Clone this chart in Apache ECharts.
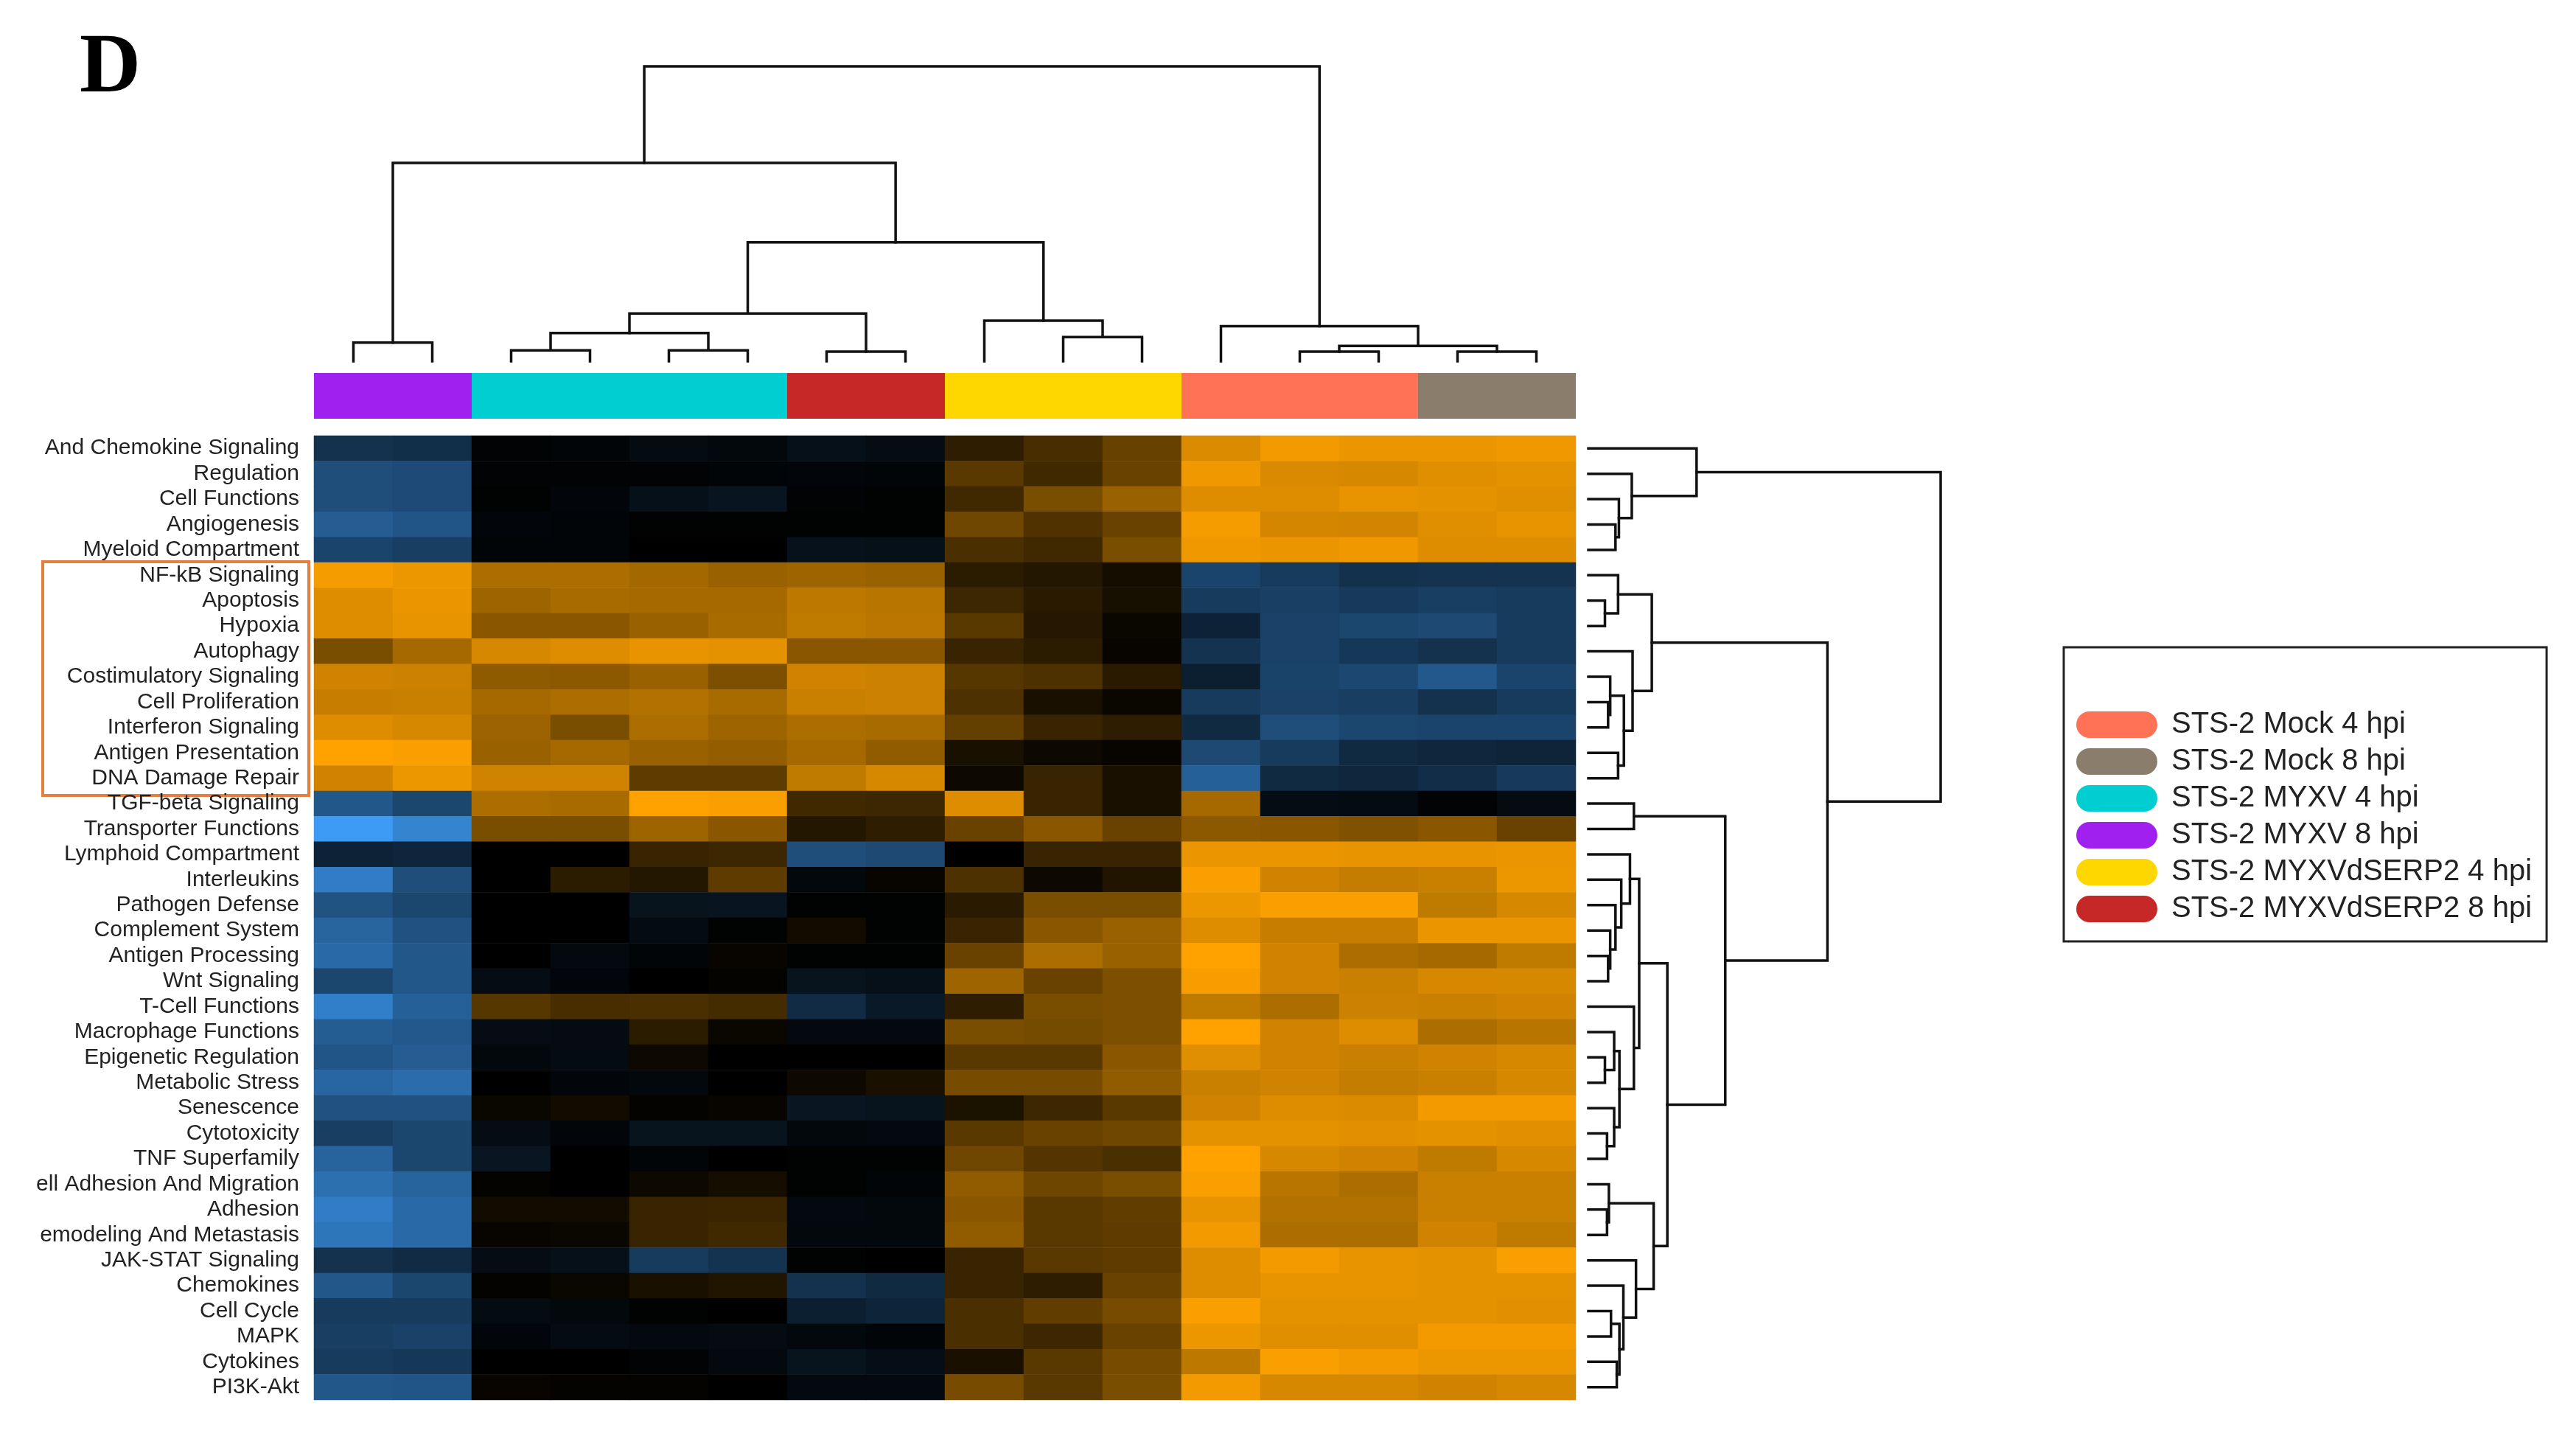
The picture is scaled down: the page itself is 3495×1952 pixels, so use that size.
<!DOCTYPE html>
<html>
<head>
<meta charset="utf-8">
<title>Pathway score heatmap</title>
<script src="https://cdn.jsdelivr.net/npm/echarts@6/dist/echarts.min.js"></script>
<style>
  html, body { margin: 0; padding: 0; background: #fff; }
  #chart { width: 3495px; height: 1952px; }
</style>
</head>
<body>
<div id="chart"></div>
<script>
// 行标签（自上而下，左侧被裁掉的部分按原图保留）
const rowNames = [
  'And Chemokine Signaling', 'Regulation', 'Cell Functions', 'Angiogenesis', 'Myeloid Compartment',
  'NF-kB Signaling', 'Apoptosis', 'Hypoxia', 'Autophagy', 'Costimulatory Signaling',
  'Cell Proliferation', 'Interferon Signaling', 'Antigen Presentation', 'DNA Damage Repair', 'TGF-beta Signaling',
  'Transporter Functions', 'Lymphoid Compartment', 'Interleukins', 'Pathogen Defense', 'Complement System',
  'Antigen Processing', 'Wnt Signaling', 'T-Cell Functions', 'Macrophage Functions', 'Epigenetic Regulation',
  'Metabolic Stress', 'Senescence', 'Cytotoxicity', 'TNF Superfamily', 'ell Adhesion And Migration',
  'Adhesion', 'emodeling And Metastasis', 'JAK-STAT Signaling', 'Chemokines', 'Cell Cycle',
  'MAPK', 'Cytokines', 'PI3K-Akt'
]

// 样本列
const colIds = ['S1', 'S2', 'S3', 'S4', 'S5', 'S6', 'S7', 'S8', 'S9', 'S10', 'S11', 'S12', 'S13', 'S14', 'S15', 'S16']
const colGroup = [3, 3, 2, 2, 2, 2, 5, 5, 4, 4, 4, 0, 0, 0, 1, 1]

// 分组
const groupNames = ['STS-2 Mock 4 hpi', 'STS-2 Mock 8 hpi', 'STS-2 MYXV 4 hpi', 'STS-2 MYXV 8 hpi', 'STS-2 MYXVdSERP2 4 hpi', 'STS-2 MYXVdSERP2 8 hpi']
const groupColors = ['#ff7256', '#8b7d6b', '#00ced1', '#a020f0', '#ffd700', '#c62828']

// 标准化得分（行 x 列）
const scores = [
  [-0.32, -0.30, -0.02, -0.03, -0.07, -0.05, -0.10, -0.08, 0.18, 0.28, 0.40, 0.86, 0.95, 0.92, 0.92, 0.94],
  [-0.50, -0.48, -0.02, -0.02, -0.02, -0.03, -0.04, -0.03, 0.35, 0.25, 0.41, 0.94, 0.85, 0.84, 0.88, 0.90],
  [-0.50, -0.48, -0.01, -0.04, -0.10, -0.13, -0.02, -0.01, 0.25, 0.48, 0.60, 0.87, 0.87, 0.91, 0.90, 0.88],
  [-0.60, -0.55, -0.04, -0.03, -0.01, -0.01, -0.01, -0.01, 0.44, 0.31, 0.41, 0.96, 0.83, 0.82, 0.88, 0.91],
  [-0.44, -0.40, -0.03, -0.03, 0.00, 0.00, -0.11, -0.10, 0.29, 0.25, 0.48, 0.94, 0.92, 0.94, 0.87, 0.87],
  [0.96, 0.93, 0.68, 0.68, 0.64, 0.60, 0.62, 0.60, 0.17, 0.14, 0.08, -0.44, -0.38, -0.31, -0.33, -0.33],
  [0.87, 0.92, 0.62, 0.66, 0.65, 0.65, 0.74, 0.72, 0.24, 0.16, 0.09, -0.38, -0.41, -0.37, -0.40, -0.38],
  [0.87, 0.91, 0.54, 0.54, 0.60, 0.66, 0.75, 0.73, 0.35, 0.15, 0.04, -0.22, -0.42, -0.45, -0.47, -0.38],
  [0.48, 0.65, 0.84, 0.87, 0.91, 0.90, 0.54, 0.54, 0.22, 0.17, 0.03, -0.33, -0.42, -0.36, -0.32, -0.38],
  [0.81, 0.80, 0.56, 0.55, 0.60, 0.49, 0.81, 0.80, 0.34, 0.30, 0.16, -0.20, -0.43, -0.46, -0.57, -0.44],
  [0.78, 0.79, 0.65, 0.68, 0.70, 0.66, 0.79, 0.80, 0.30, 0.10, 0.04, -0.38, -0.42, -0.40, -0.32, -0.38],
  [0.87, 0.84, 0.61, 0.48, 0.68, 0.62, 0.68, 0.66, 0.39, 0.22, 0.18, -0.27, -0.50, -0.45, -0.44, -0.44],
  [1.00, 0.98, 0.60, 0.65, 0.60, 0.58, 0.65, 0.57, 0.10, 0.05, 0.03, -0.47, -0.38, -0.27, -0.25, -0.23],
  [0.81, 0.93, 0.81, 0.81, 0.37, 0.37, 0.75, 0.84, 0.05, 0.22, 0.10, -0.62, -0.27, -0.25, -0.29, -0.37],
  [-0.56, -0.45, 0.68, 0.66, 1.00, 0.98, 0.25, 0.24, 0.87, 0.22, 0.10, 0.65, -0.08, -0.07, -0.02, -0.07],
  [-1.00, -0.85, 0.48, 0.48, 0.62, 0.54, 0.14, 0.18, 0.41, 0.54, 0.41, 0.55, 0.54, 0.50, 0.54, 0.41],
  [-0.22, -0.24, 0.00, 0.00, 0.22, 0.24, -0.50, -0.47, 0.00, 0.22, 0.22, 0.92, 0.92, 0.91, 0.91, 0.92],
  [-0.80, -0.50, 0.00, 0.17, 0.14, 0.37, -0.05, 0.03, 0.30, 0.05, 0.13, 0.98, 0.81, 0.77, 0.79, 0.93],
  [-0.53, -0.45, 0.00, 0.00, -0.12, -0.13, -0.01, -0.01, 0.16, 0.48, 0.48, 0.93, 0.98, 0.98, 0.75, 0.84],
  [-0.65, -0.52, 0.00, 0.00, -0.07, -0.01, 0.07, -0.01, 0.22, 0.54, 0.60, 0.87, 0.78, 0.78, 0.92, 0.92],
  [-0.68, -0.56, 0.00, -0.06, -0.03, 0.03, -0.01, -0.01, 0.41, 0.68, 0.60, 1.00, 0.81, 0.68, 0.65, 0.75],
  [-0.45, -0.56, -0.08, -0.04, 0.00, 0.02, -0.12, -0.10, 0.62, 0.41, 0.49, 0.97, 0.81, 0.79, 0.84, 0.84],
  [-0.82, -0.62, 0.34, 0.28, 0.29, 0.27, -0.28, -0.16, 0.18, 0.48, 0.49, 0.75, 0.68, 0.80, 0.79, 0.81],
  [-0.60, -0.57, -0.08, -0.07, 0.17, 0.04, -0.06, -0.06, 0.48, 0.46, 0.49, 1.00, 0.81, 0.87, 0.68, 0.72],
  [-0.55, -0.60, -0.05, -0.07, 0.05, 0.00, 0.00, 0.00, 0.35, 0.35, 0.54, 0.88, 0.81, 0.79, 0.81, 0.84],
  [-0.66, -0.70, 0.00, -0.04, -0.05, 0.00, 0.05, 0.10, 0.47, 0.47, 0.57, 0.79, 0.81, 0.77, 0.79, 0.84],
  [-0.52, -0.52, 0.04, 0.07, 0.02, 0.03, -0.14, -0.12, 0.11, 0.24, 0.35, 0.81, 0.87, 0.86, 0.95, 0.95],
  [-0.40, -0.45, -0.08, -0.04, -0.12, -0.12, -0.05, -0.06, 0.35, 0.41, 0.44, 0.90, 0.90, 0.89, 0.90, 0.89],
  [-0.64, -0.45, -0.14, 0.00, -0.03, 0.00, -0.01, -0.01, 0.44, 0.33, 0.29, 1.00, 0.84, 0.81, 0.75, 0.84],
  [-0.72, -0.64, 0.02, 0.00, 0.05, 0.08, -0.01, -0.03, 0.57, 0.43, 0.48, 0.98, 0.72, 0.68, 0.79, 0.79],
  [-0.80, -0.68, 0.07, 0.07, 0.22, 0.23, -0.06, -0.05, 0.54, 0.35, 0.38, 0.91, 0.70, 0.70, 0.79, 0.79],
  [-0.76, -0.68, 0.03, 0.04, 0.22, 0.25, -0.05, -0.05, 0.57, 0.35, 0.37, 0.95, 0.68, 0.68, 0.81, 0.75],
  [-0.32, -0.28, -0.08, -0.10, -0.38, -0.33, -0.01, 0.00, 0.22, 0.35, 0.37, 0.87, 0.95, 0.91, 0.90, 0.98],
  [-0.56, -0.45, 0.02, 0.04, 0.10, 0.13, -0.32, -0.27, 0.22, 0.18, 0.41, 0.87, 0.91, 0.91, 0.90, 0.90],
  [-0.38, -0.38, -0.07, -0.05, -0.01, 0.00, -0.20, -0.23, 0.29, 0.38, 0.47, 0.98, 0.90, 0.90, 0.90, 0.89],
  [-0.40, -0.42, -0.04, -0.07, -0.06, -0.07, -0.05, -0.03, 0.29, 0.24, 0.41, 0.93, 0.88, 0.88, 0.95, 0.95],
  [-0.38, -0.36, 0.00, 0.00, -0.02, -0.06, -0.12, -0.09, 0.10, 0.35, 0.47, 0.74, 0.98, 0.95, 0.93, 0.93],
  [-0.56, -0.55, 0.03, 0.02, 0.02, 0.00, -0.06, -0.06, 0.47, 0.35, 0.48, 0.95, 0.84, 0.84, 0.81, 0.84]
]

// 列聚类（hclust 格式：负数为叶子，正数为之前的合并步骤）
const colMerge = [
  [-1, -2], [-3, -4], [-5, -6], [2, 3], [-7, -8], [4, 5], [-10, -11], [-9, 7],
  [6, 8], [1, 9], [-13, -14], [-15, -16], [11, 12], [-12, 13], [10, 14]
]
const colHeight = [7.3, 4.3, 4.3, 11.1, 3.8, 18.8, 9.5, 16.0, 46.8, 78.1, 3.8, 3.8, 6.0, 13.8, 116.1]

// 行聚类
const rowMerge = [
  [-4, -5], [-3, 1], [-2, 2], [-1, 3],
  [-7, -8], [-6, 5], [-11, -12], [-10, 7], [-13, -14], [8, 9], [-9, 10], [6, 11],
  [-15, -16], [-21, -22], [-20, 14], [-19, 15], [-18, 16], [-17, 17],
  [-25, -26], [-24, 19], [-28, -29], [-27, 21], [20, 22], [-23, 23], [18, 24],
  [-31, -32], [-30, 26], [-35, -36], [-37, -38], [28, 29], [-34, 30], [-33, 31], [27, 32],
  [25, 33], [13, 34], [12, 35], [4, 36]
]
const rowHeight = [
  10.3, 11.6, 16.5, 41.1,
  6.3, 11.3, 7.5, 8.3, 11.3, 13.5, 16.8, 24.1,
  17.3, 7.5, 8.3, 10.3, 12.5, 15.8,
  6.3, 9.8, 7.1, 9.8, 11.8, 17.3, 19.3,
  7.1, 7.8, 8.6, 10.8, 11.8, 13.3, 18.1, 24.8,
  30.0, 52.0, 90.8, 133.8
]

// 把合并步骤转成 [左位置, 左高度, 右位置, 右高度, 合并高度]
const dendroLinks = (merge, height) => {
  const pos = []
  const nodePos = (k) => (k < 0 ? -k - 1 : pos[k - 1])
  const nodeH = (k) => (k < 0 ? 0 : height[k - 1])
  return merge.map((m, i) => {
    const a = nodePos(m[0])
    const b = nodePos(m[1])
    pos[i] = (a + b) / 2
    return [a, nodeH(m[0]), b, nodeH(m[1]), height[i]]
  })
}

const heatData = []
scores.forEach((row, r) => {
  row.forEach((v, c) => heatData.push([c, r, v]))
})

const lineStyle = { stroke: '#111', lineWidth: 3.5, fill: null, lineJoin: 'miter', lineCap: 'square' }

// 顶部分组色条
const barSeries = groupNames.map((name, g) => ({
  name: name,
  type: 'custom',
  xAxisIndex: 1,
  yAxisIndex: 1,
  itemStyle: { color: groupColors[g] },
  encode: { x: 0, y: 1 },
  data: colGroup.map((grp, c) => [c, 1, grp]).filter(d => d[2] === g),
  renderItem: (params, api) => {
    const c = api.value(0)
    const p0 = api.coord([c - 0.5, 1])
    const p1 = api.coord([c + 0.5, 0])
    return {
      type: 'rect',
      shape: { x: p0[0], y: p0[1], width: p1[0] - p0[0], height: p1[1] - p0[1] },
      style: { fill: groupColors[g] }
    }
  }
}))

const capsule = 'path://M18,0 L92,0 A18,18 0 0 1 92,36 L18,36 A18,18 0 0 1 18,0 Z'

const chart = echarts.init(document.getElementById('chart'))

const option = {
  animation: false,
  backgroundColor: '#fff',
  title: {
    text: 'D',
    left: 103,
    top: 32,
    textStyle: { fontFamily: 'Liberation Serif', fontWeight: 'bold', fontSize: 115, color: '#000' }
  },
  legend: {
    orient: 'vertical',
    left: 2800,
    top: 878,
    selectedMode: false,
    data: groupNames.map((name, g) => ({ name: name, icon: capsule, itemStyle: { color: groupColors[g] } })),
    itemWidth: 110,
    itemHeight: 36,
    itemGap: 10,
    padding: [85, 20, 24, 17],
    borderColor: '#222',
    borderWidth: 3,
    textStyle: { fontFamily: 'Liberation Sans', fontSize: 40, color: '#222', padding: [0, 0, 0, 14] }
  },
  visualMap: {
    type: 'continuous',
    show: false,
    seriesIndex: 0,
    dimension: 2,
    min: -1,
    max: 1,
    inRange: { color: ['#3d9bf5', '#000000', '#ffa200'] }
  },
  grid: [
    { left: 426, top: 591, width: 1712, height: 1308 },
    { left: 426, top: 506, width: 1712, height: 62 },
    { left: 426, top: 90, width: 1712, height: 400 },
    { left: 2155, top: 591, width: 478, height: 1308 }
  ],
  xAxis: [
    { type: 'category', gridIndex: 0, data: colIds, show: false },
    { type: 'value', gridIndex: 1, min: -0.5, max: 15.5, show: false },
    { type: 'value', gridIndex: 2, min: -0.5, max: 15.5, show: false },
    { type: 'value', gridIndex: 3, min: 0, max: Math.max(...rowHeight), show: false }
  ],
  yAxis: [
    {
      type: 'category',
      gridIndex: 0,
      data: rowNames,
      inverse: true,
      axisLine: { show: false },
      axisTick: { show: false },
      axisLabel: {
        interval: 0,
        fontFamily: 'Liberation Sans',
        fontSize: 30,
        color: '#222',
        margin: 20,
        padding: [10, 0, 0, 0]
      }
    },
    { type: 'value', gridIndex: 1, min: 0, max: 1, show: false },
    { type: 'value', gridIndex: 2, min: 0, max: Math.max(...colHeight), show: false },
    { type: 'value', gridIndex: 3, min: -0.5, max: 37.5, inverse: true, show: false }
  ],
  series: [
    {
      type: 'heatmap',
      xAxisIndex: 0,
      yAxisIndex: 0,
      data: heatData,
      itemStyle: { borderWidth: 0 },
      emphasis: { disabled: true }
    },
    ...barSeries,
    {
      // 列树
      type: 'custom',
      xAxisIndex: 2,
      yAxisIndex: 2,
      encode: { x: [0, 2], y: [1, 3, 4] },
      data: dendroLinks(colMerge, colHeight),
      renderItem: (params, api) => {
        const xl = api.value(0), hl = api.value(1), xr = api.value(2), hr = api.value(3), h = api.value(4)
        return {
          type: 'polyline',
          shape: { points: [api.coord([xl, hl]), api.coord([xl, h]), api.coord([xr, h]), api.coord([xr, hr])] },
          style: lineStyle
        }
      }
    },
    {
      // 行树
      type: 'custom',
      xAxisIndex: 3,
      yAxisIndex: 3,
      encode: { x: [1, 3, 4], y: [0, 2] },
      data: dendroLinks(rowMerge, rowHeight),
      renderItem: (params, api) => {
        const yl = api.value(0), hl = api.value(1), yr = api.value(2), hr = api.value(3), h = api.value(4)
        return {
          type: 'polyline',
          shape: { points: [api.coord([hl, yl]), api.coord([h, yl]), api.coord([h, yr]), api.coord([hr, yr])] },
          style: lineStyle
        }
      }
    }
  ],
  graphic: [
    {
      // 标注的行组
      type: 'rect',
      shape: { x: 58, y: 762, width: 361, height: 317 },
      style: { fill: null, stroke: '#e57f3d', lineWidth: 4 }
    }
  ]
}

chart.setOption(option)
</script>
</body>
</html>
